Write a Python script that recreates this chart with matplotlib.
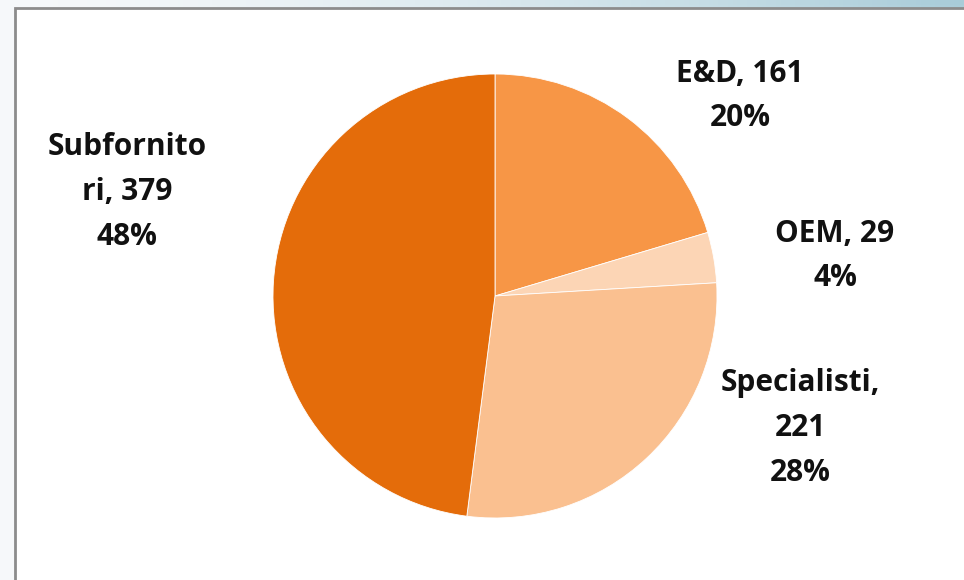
import numpy as np
import matplotlib.pyplot as plt
from matplotlib.patches import Rectangle

# data
categories = ["E&D", "OEM", "Specialisti", "Subfornitori"]
values = [161, 29, 221, 379]
label_texts = ["E&D, 161\n20%", "OEM, 29\n4%", "Specialisti,\n221\n28%", "Subfornito\nri, 379\n48%"]
colors = ["#F79646", "#FCD5B5", "#FAC090", "#E46C0A"]

W, H = 964, 580
fig = plt.figure(figsize=(W / 100, H / 100), dpi=100)

# screenshot background: soft gradient, bluish towards the top right
bg = fig.add_axes([0, 0, 1, 1])
gx = np.linspace(0, 1, 200)
gy = np.linspace(0, 1, 120)
GX, GY = np.meshgrid(gx, gy)
left_col = np.array([0.965, 0.975, 0.982])
right_col = np.array([0.66, 0.80, 0.85])
t = np.clip(GX ** 1.5 * (1 - GY) ** 3, 0, 1)[..., None]
img = left_col * (1 - t) + right_col * t
bg.imshow(img, extent=[0, W, H, 0], aspect="auto")
bg.set_xlim(0, W)
bg.set_ylim(H, 0)
bg.axis("off")
bg.add_patch(Rectangle((15, 7.5), W, H, facecolor="white", edgecolor="#8c8c8c", linewidth=2))

# pie
ax = fig.add_axes([273 / W, 62 / H, 444 / W, 444 / H])
ax.pie(values, colors=colors, startangle=90, counterclock=False, radius=1,
       wedgeprops=dict(edgecolor="white", linewidth=0.6))
ax.set_xlim(-1, 1)
ax.set_ylim(-1, 1)
ax.set_aspect("equal")
ax.axis("off")

label_pos = [(740, 96), (835, 256), (800, 428), (127, 192)]
for txt, (px, py) in zip(label_texts, label_pos):
    fig.text(px / W, 1 - py / H, txt, ha="center", va="center", fontsize=21.5,
             fontweight="bold", family="Open Sans", linespacing=1.64, color="#111111")

fig.savefig("out.png", dpi=100)
